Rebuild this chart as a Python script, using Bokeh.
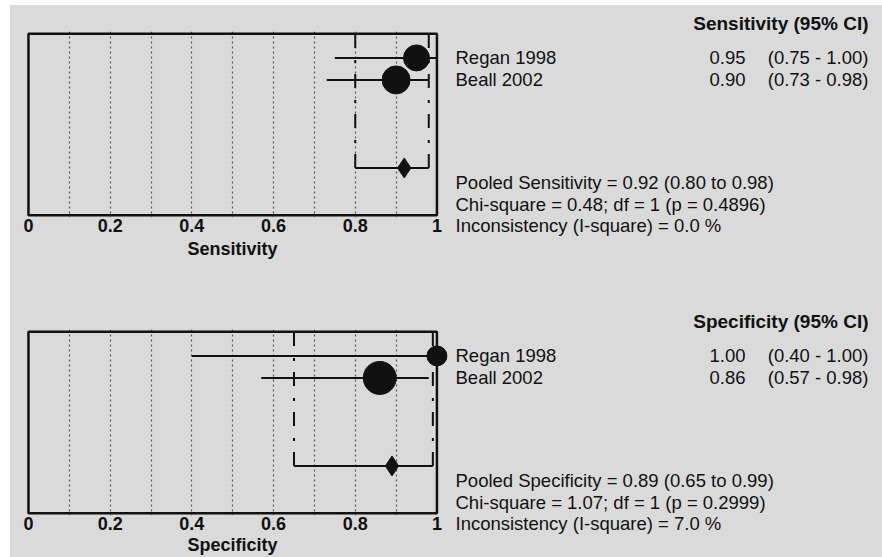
from bokeh.plotting import figure
from bokeh.models import Range1d, FixedTicker, Spacer
from bokeh.layouts import column, row
from bokeh.embed import file_html
from bokeh.resources import INLINE
from bokeh.core.properties import value

# ---------------- data ----------------
studies = ["Regan 1998", "Beall 2002"]
sens = [0.95, 0.90]
sens_lo = [0.75, 0.73]
sens_hi = [1.00, 0.98]
spec = [1.00, 0.86]
spec_lo = [0.40, 0.57]
spec_hi = [1.00, 0.98]
pooled_sens = [0.92, 0.80, 0.98]      # estimate, lower, upper
pooled_spec = [0.89, 0.65, 0.99]
het_sens = [0.48, 1, 0.4896, 0.0]     # chi-square, df, p, I-square
het_spec = [1.07, 1, 0.2999, 7.0]
tick_values = [0.0, 0.2, 0.4, 0.6, 0.8, 1.0]
tick_labels = ["0", "0.2", "0.4", "0.6", "0.8", "1"]
grid_values = [0.1, 0.2, 0.3, 0.4, 0.5, 0.6, 0.7, 0.8, 0.9]

# ---------------- style / geometry ----------------
BG = "#dadada"
INK = "#111111"
GRID = "#555555"
FONT = "Liberation Sans"
PAD_LEFT, PAD_TOP = 10, 5
LEFT_W, RIGHT_W = 444, 428
X_START, X_END = -0.044, 1.043
ROW_TOP, ROW_BOT = -0.2, 8.25
BOX_TOP, BOX_BOT = -0.1, 8.15
FRAME_H = 186
PPR = FRAME_H / (ROW_BOT - ROW_TOP)
POOL_ROW = 6.0
TITLE_ROW = -0.55
STAT_ROWS = [6.66, 7.64, 8.63]
TXT_SIZE = "18.5px"


def box_plot(name, est, lo, hi, pooled, sizes, H, mbt, std_tick, std_label):
    rows = [i + 1 for i in range(len(studies))]
    p = figure(width=LEFT_W, height=H,
               x_range=Range1d(X_START, X_END), y_range=Range1d(ROW_BOT, ROW_TOP),
               output_backend="svg", toolbar_location=None,
               y_axis_location=None,
               min_border_left=0, min_border_right=0,
               min_border_top=mbt, min_border_bottom=H - mbt - FRAME_H,
               background_fill_color=BG, border_fill_color=BG,
               outline_line_color=None)
    ax = p.xaxis[0]
    ax.ticker = FixedTicker(ticks=tick_values)
    ax.major_label_overrides = {float(v): s for v, s in zip(tick_values, tick_labels)}
    ax.axis_line_color = None
    ax.major_tick_line_color = None
    ax.minor_tick_line_color = None
    ax.major_tick_out = 0
    ax.major_tick_in = 0
    ax.major_label_standoff = std_tick
    ax.major_label_text_font = FONT
    ax.major_label_text_font_size = "18px"
    ax.major_label_text_font_style = "bold"
    ax.major_label_text_color = INK
    ax.axis_label = name
    ax.axis_label_standoff = std_label
    ax.axis_label_text_font = FONT
    ax.axis_label_text_font_size = "18px"
    ax.axis_label_text_font_style = "bold"
    ax.axis_label_text_color = INK
    p.xgrid.ticker = FixedTicker(ticks=grid_values)
    p.xgrid.grid_line_color = GRID
    p.xgrid.grid_line_dash = "2 3"
    p.xgrid.grid_line_width = 1.2
    p.ygrid.visible = False

    # pooled bracket (dash-dot legs + solid base)
    p.segment(x0=[pooled[1], pooled[2]], y0=[POOL_ROW, POOL_ROW],
              x1=[pooled[1], pooled[2]], y1=[BOX_TOP, BOX_TOP],
              line_color=INK, line_width=2, line_dash="14 11 3 12")
    p.segment(x0=[pooled[1]], y0=[POOL_ROW], x1=[pooled[2]], y1=[POOL_ROW],
              line_color=INK, line_width=2)
    p.scatter(x=[pooled[0]], y=[POOL_ROW], marker="diamond", size=20,
              fill_color=INK, line_color=INK)
    # studies
    p.segment(x0=lo, y0=rows, x1=hi, y1=rows, line_color=INK, line_width=2)
    p.scatter(x=est, y=rows, marker="circle", size=sizes,
              fill_color=INK, line_color=INK)
    # frame box
    p.quad(left=[0], right=[1], top=[BOX_TOP], bottom=[BOX_BOT],
           fill_color=None, line_color=INK, line_width=2.5)
    return p


def text_panel(name, est, lo, hi, pooled, het, H, offset):
    """Text block; its frame fills the figure. `offset` = pixels from the
    figure top down to the row ROW_TOP of the neighbouring box plot."""
    rows = [i + 1 for i in range(len(studies))]
    y_top = ROW_TOP - offset / PPR
    y_bot = ROW_TOP + (H - offset) / PPR
    t = figure(width=RIGHT_W, height=H,
               x_range=Range1d(0, RIGHT_W), y_range=Range1d(y_bot, y_top),
               output_backend="svg", toolbar_location=None,
               x_axis_location=None, y_axis_location=None,
               min_border=0, background_fill_color=BG, border_fill_color=BG,
               outline_line_color=None)
    t.xgrid.visible = False
    t.ygrid.visible = False
    common = dict(text_font=value(FONT), text_font_size=TXT_SIZE,
                  text_color=INK, text_baseline="middle")
    t.text(x=[414], y=[TITLE_ROW], text=[f"{name} (95% CI)"],
           text_align="right", text_font_style="bold",
           **{**common, "text_font_size": "19px"})
    t.text(x=[1] * len(studies), y=rows, text=studies, text_align="left", **common)
    t.text(x=[291] * len(studies), y=rows, text=[f"{v:.2f}" for v in est],
           text_align="right", **common)
    t.text(x=[414] * len(studies), y=rows,
           text=[f"({a:.2f} - {b:.2f})" for a, b in zip(lo, hi)],
           text_align="right", **common)
    stats = [f"Pooled {name} = {pooled[0]:.2f} ({pooled[1]:.2f} to {pooled[2]:.2f})",
             f"Chi-square = {het[0]:.2f}; df =  {het[1]} (p = {het[2]:.4f})",
             f"Inconsistency (I-square) = {het[3]:.1f} %"]
    t.text(x=[1] * 3, y=STAT_ROWS, text=stats, text_align="left", **common)
    return t


H1 = 277
H2 = 557 - PAD_TOP - H1          # 275
MBT1, MBT2 = 26, 47
p1 = box_plot("Sensitivity", sens, sens_lo, sens_hi, pooled_sens, [26, 28],
              H1, MBT1, 1, 4)
p2 = box_plot("Specificity", spec, spec_lo, spec_hi, pooled_spec, [20, 33],
              H2, MBT2, 1, 2)

# text column is offset by 1px so its frames are laid out independently
T1 = H1                            # page 6 .. 283
T2 = 557 - PAD_TOP - 1 - T1 - 1    # page 283 .. 556
t1 = text_panel("Sensitivity", sens, sens_lo, sens_hi, pooled_sens, het_sens,
                T1, MBT1 - 1)
t2 = text_panel("Specificity", spec, spec_lo, spec_hi, pooled_spec, het_spec,
                T2, (H1 + MBT2) - (1 + T1))

left_col = column(p1, p2, spacing=0)
right_col = column(Spacer(width=RIGHT_W, height=1), t1, t2,
                   Spacer(width=RIGHT_W, height=1), spacing=0)
charts = row(left_col, right_col, spacing=0,
             styles={"background-color": BG})
layout = column(Spacer(height=PAD_TOP, width=PAD_LEFT + LEFT_W + RIGHT_W),
                row(Spacer(width=PAD_LEFT, height=H1 + H2), charts, spacing=0),
                spacing=0)

open("out.html", "w").write(file_html(layout, INLINE))
